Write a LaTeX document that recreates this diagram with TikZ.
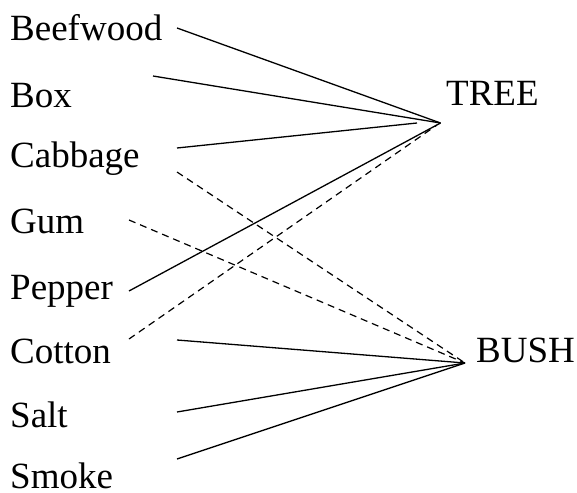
\documentclass[tikz,border=0pt]{standalone}
\usepackage{fontspec}
\setmainfont{Liberation Serif}
\begin{document}
\begin{tikzpicture}[x=1pt,y=-1pt,
  lbl/.style={anchor=base west,inner sep=0pt,font=\fontsize{37}{40}\selectfont},
  link/.style={line width=1.3pt},
  dlink/.style={line width=1.2pt,dash pattern=on 7pt off 5pt}]
\useasboundingbox (0,0) rectangle (577,492);
\node[lbl] (beef) at (10,41) {Beefwood};
\node[lbl] (box) at (10,107) {Box};
\node[lbl] (cab) at (10,167) {Cabbage};
\node[lbl] (gum) at (10,233) {Gum};
\node[lbl] (pep) at (10,299) {Pepper};
\node[lbl] (cot) at (10,363) {Cotton};
\node[lbl] (salt) at (10,427) {Salt};
\node[lbl] (smoke) at (10,488.5) {Smoke};
\node[lbl] (tree) at (446,105) {TREE};
\node[lbl] (bush) at (476,362) {BUSH};
% hubs
\coordinate (th) at (440.5,123);
\coordinate (thc) at (417,123);
\coordinate (thd) at (437,125);
\coordinate (bh) at (465,363);
% line ends near labels
\coordinate (beefA) at (177,28);
\coordinate (boxA) at (153,76);
\coordinate (cabA) at (177,148);
\coordinate (cabB) at (177,172);
\coordinate (gumA) at (129,220);
\coordinate (pepA) at (129,291);
\coordinate (cotA) at (129,339);
\coordinate (cotB) at (177,340);
\coordinate (saltA) at (177,412);
\coordinate (smokeA) at (177,459);
\draw[link] (beefA) -- (th);
\draw[link] (boxA) -- (th);
\draw[link] (cabA) -- (thc);
\draw[link] (pepA) -- (th);
\draw[dlink] (cotA) -- (thd);
\draw[dlink] (cabB) -- (bh);
\draw[dlink] (gumA) -- (bh);
\draw[link] (cotB) -- (bh);
\draw[link] (saltA) -- (bh);
\draw[link] (smokeA) -- (bh);
\end{tikzpicture}
\end{document}
